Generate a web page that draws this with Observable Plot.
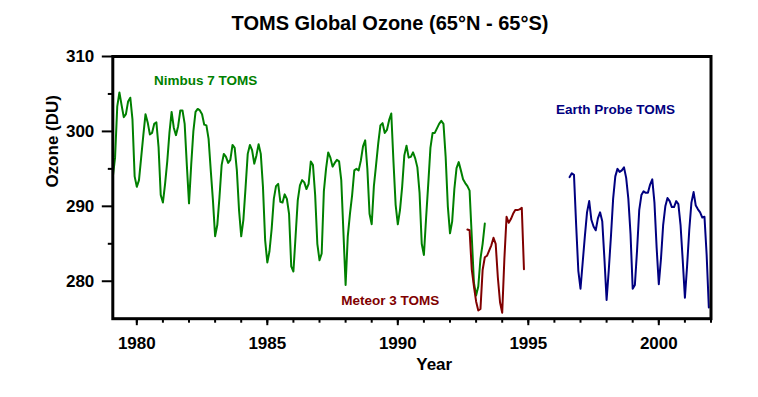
<!DOCTYPE html>
<html><head><meta charset="utf-8">
<script src="https://cdn.jsdelivr.net/npm/d3@7"></script>
<script src="https://cdn.jsdelivr.net/npm/@observablehq/plot@0.6"></script>
<style>
html,body{margin:0;padding:0;background:#fff;}
body{width:758px;height:397px;overflow:hidden;position:relative;font-family:"Liberation Sans",Arial,sans-serif;}
#title{position:absolute;left:0;top:0;width:780px;height:44px;text-align:center;font-weight:bold;font-size:20px;line-height:20px;padding-top:13px;box-sizing:border-box;color:#000;}
#chart{position:absolute;left:0;top:44px;}
</style></head><body>
<div id="title">TOMS Global Ozone (65°N - 65°S)</div>
<div id="chart"></div>
<script>
// Monthly global ozone (DU)
const nimbusStart = 1979;          // first value = Jan 1979
const nimbusOzone = [
 291.5,294.0,296.5,303.3,305.2,303.5,301.9,302.3,304.0,304.5,301.6,294.0,
 292.6,293.5,296.5,299.5,302.3,301.2,299.6,299.8,301.0,301.2,297.9,291.5,
 290.5,293.0,296.0,299.8,302.6,300.5,299.5,300.7,302.8,302.8,301.0,295.5,
 290.4,295.5,300.0,302.6,303.0,302.8,302.3,300.9,300.8,299.0,294.8,290.8,
 286.0,287.5,291.2,295.5,297.0,296.6,295.8,296.2,298.2,297.8,294.8,289.5,
 286.0,288.2,292.5,297.0,298.2,297.5,295.7,296.8,298.3,297.0,292.6,285.5,
 282.5,284.0,287.0,291.0,292.7,293.0,290.6,290.5,291.6,291.0,289.0,282.0,
 281.3,286.0,290.8,292.8,293.5,293.2,292.3,293.0,296.0,295.5,291.5,285.0,
 282.8,283.7,292.0,295.0,297.2,296.5,295.3,295.8,296.2,296.0,293.5,286.5,
 279.5,286.0,289.0,291.5,294.8,295.0,294.8,296.1,298.0,298.8,295.0,289.0,
 287.6,292.7,295.5,298.4,300.8,301.1,299.8,300.2,301.5,302.4,296.0,290.2,
 287.6,289.5,292.6,296.8,298.1,296.5,296.6,297.2,296.4,295.2,291.8,285.0,
 283.5,288.4,293.0,297.8,299.8,299.8,300.4,301.0,301.4,301.0,296.6,290.0,
 286.4,288.0,292.3,295.1,295.9,294.8,293.6,293.1,292.7,292.1,286.0,279.8,
 278.1,279.3,283.0,285.0,287.7
];
const meteorStart = 1979 + 164/12; // Sep 1992
const meteorOzone = [
 286.9,286.8,281.6,279.3,277.3,276.1,276.3,281.5,283.2,283.4,284.1,284.8,
 285.8,285.0,280.5,277.2,275.8,283.0,288.6,287.8,288.3,289.0,289.5,289.5,
 289.6,289.8,281.6
];
const earthProbeStart = 1979 + 211/12; // Aug 1996
const earthProbeOzone = [
 293.9,294.4,294.2,287.5,281.4,279.0,282.5,286.0,289.2,290.7,288.2,287.3,
 286.8,288.4,289.2,288.0,283.0,277.5,281.5,286.0,291.0,294.0,295.0,294.6,
 294.8,295.2,293.8,291.0,286.3,279.0,279.5,284.1,289.5,291.5,292.0,291.8,
 291.8,292.9,293.6,290.5,284.5,279.6,283.0,287.5,290.0,291.1,290.7,289.9,
 289.9,290.7,290.3,287.5,282.8,277.8,282.0,286.8,290.5,291.9,290.1,289.6,
 289.2,288.5,288.6,283.5,276.5
];
const seriesNames = ["Nimbus 7 TOMS", "Meteor 3 TOMS", "Earth Probe TOMS"];
const seriesColors = ["#008000", "#800000", "#000080"];
// label anchors in data units (year, DU)
const labelYears = [1982.64, 1989.71, 1998.34];
const labelOzone = [306.8, 277.36, 302.96];
const yMajor = [280, 290, 300, 310];
const yMinor = [285, 295, 305];
const xMajor = [1980, 1985, 1990, 1995, 2000];
const xMinor = d3.range(1980, 2003);

const toRows = (start, vals) => vals.map((v, i) => ({year: start + i / 12, ozone: v}));
const rows = [toRows(nimbusStart, nimbusOzone), toRows(meteorStart, meteorOzone), toRows(earthProbeStart, earthProbeOzone)];
const labels = seriesNames.map((t, i) => ({text: t, year: labelYears[i], ozone: labelOzone[i], color: seriesColors[i]}));

const font = {fontSize: 17, fontWeight: "bold"};
const chart = Plot.plot({
  width: 758, height: 353,
  marginLeft: 112.3, marginRight: 47.5, marginTop: 12, marginBottom: 78.8,
  x: {domain: [1979.08, 2002]},
  y: {domain: [275, 310]},
  color: {type: "identity"},
  style: {fontFamily: "Liberation Sans, Arial, sans-serif", background: "white", color: "black"},
  marks: [
    Plot.axisY({ticks: yMinor, tickSize: 4.5, tickFormat: () => "", strokeWidth: 2, label: null}),
    Plot.axisY({ticks: yMajor, tickSize: 10.5, tickPadding: 8, strokeWidth: 2, label: null, tickFormat: d3.format("d"), ...font}),
    Plot.axisX({ticks: xMinor, tickSize: 4.5, tickFormat: () => "", strokeWidth: 2, label: null}),
    Plot.axisX({ticks: xMajor, tickSize: 7, tickPadding: 11, strokeWidth: 2, label: null, tickFormat: d3.format("d"), ...font}),
    ...rows.map((r, i) => Plot.line(r, {x: "year", y: "ozone", stroke: seriesColors[i], strokeWidth: 2, clip: true})),
    Plot.text(labels, {x: "year", y: "ozone", text: "text", fill: "color", fontSize: 13.5, fontWeight: "bold"}),
    Plot.frame({strokeWidth: 3}),
    Plot.text(["Ozone (DU)"], {text: d => d, frameAnchor: "left", dx: -59.8, rotate: -90, ...font}),
    Plot.text(["Year"], {text: d => d, frameAnchor: "bottom", dx: 22.3, dy: 51.5, ...font})
  ]
});
document.getElementById("chart").appendChild(chart);
</script>
</body></html>
